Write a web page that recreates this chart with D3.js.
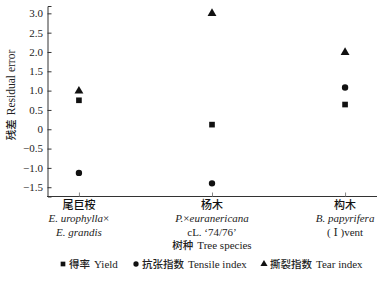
<!DOCTYPE html>
<html lang="zh">
<head>
<meta charset="UTF-8">
<script src="https://d3js.org/d3.v7.min.js"></script>
<style>
  body { margin: 0; background: #fff; }
  text, tspan { font-family: "Liberation Serif", "DejaVu Serif", serif; }
  .zh { font-family: "Noto Sans CJK SC", sans-serif; font-weight: 500; }
</style>
</head>
<body>
<script>
// species (x categories) and the three residual series
const species = ["尾巨桉", "杨木", "构木"];
const yieldVals = [0.75, 0.12, 0.64];
const tensileVals = [-1.13, -1.40, 1.08];
const tearVals = [0.99, 3.0, 1.99];
const yTicks = [-1.5, -1.0, -0.5, 0, 0.5, 1.0, 1.5, 2.0, 2.5, 3.0];
// latin names under each species, as [text, italic] pieces per line
const latinLines = [
  [[["E. urophylla", true], ["×", false]], [["E. grandis", true]]],
  [[["P.", true], ["×", false], ["euranericana", true]], [["cL. ‘74/76’", false]]],
  [[["B. papyrifera", true]], [["( Ⅰ )vent", false]]]
];
const legendItems = [
  { zh: "得率", en: "Yield", sym: d3.symbolSquare },
  { zh: "抗张指数", en: "Tensile index", sym: d3.symbolCircle },
  { zh: "撕裂指数", en: "Tear index", sym: d3.symbolTriangle }
];

const W = 386, H = 284;
const serif = "'Liberation Serif', 'DejaVu Serif', serif";
const svg = d3.select("body").append("svg").attr("width", W).attr("height", H);

const x = d3.scalePoint().domain(species).range([47, 377]).padding(0.24);
const y = d3.scaleLinear().domain([-1.74, 3.19]).range([196.5, 6]);

// axes with inward ticks
const fmt = d => d === 0 ? "0" : d3.format(".1f")(d).replace("-", "−");
svg.append("g")
  .attr("transform", "translate(47.5,0)")
  .call(d3.axisRight(y).tickValues(yTicks).tickSize(4).tickFormat(""))
  .call(g => g.select(".domain").attr("stroke", "#333"))
  .call(g => g.selectAll(".tick line").attr("stroke", "#333"));
svg.append("g").selectAll("text").data(yTicks).join("text")
  .attr("x", 43).attr("y", d => y(d)).attr("dy", "0.35em")
  .attr("text-anchor", "end").attr("font-size", 11).attr("fill", "#222")
  .style("font-family", serif)
  .text(fmt);

svg.append("g")
  .attr("transform", "translate(0,196.5)")
  .call(d3.axisTop(x).tickSize(4).tickFormat(""))
  .call(g => g.select(".domain").attr("d", "M47,0H377").attr("stroke", "#333"))
  .call(g => g.selectAll(".tick line").attr("stroke", "#888"));

// category labels
species.forEach((s, i) => {
  const cx = x(s);
  svg.append("text").attr("class", "zh").attr("x", cx).attr("y", 209)
    .attr("text-anchor", "middle").attr("font-size", 11).attr("fill", "#111").text(s);
  latinLines[i].forEach((line, j) => {
    const t = svg.append("text").attr("x", cx).attr("y", 222 + j * 13.5)
      .attr("text-anchor", "middle").attr("font-size", 11).attr("fill", "#222")
      .style("font-family", serif);
    line.forEach(([txt, it]) => t.append("tspan")
      .attr("font-style", it ? "italic" : "normal").text(txt));
  });
});

// axis titles
const xt = svg.append("text").attr("x", 212).attr("y", 249)
  .attr("text-anchor", "middle").attr("font-size", 11).attr("fill", "#222")
  .style("font-family", serif);
xt.append("tspan").attr("class", "zh").attr("font-size", 10.5).text("树种");
xt.append("tspan").attr("dx", 4).text("Tree species");

const yt = svg.append("text").attr("transform", "translate(15,95) rotate(-90)")
  .attr("text-anchor", "middle").attr("font-size", 11.5).attr("fill", "#222")
  .style("font-family", serif);
yt.append("tspan").attr("class", "zh").attr("font-size", 10.5).text("残差");
yt.append("tspan").attr("dx", 4).text("Residual error");

// markers
const series = [
  { vals: yieldVals, sym: d3.symbolSquare, size: 32 },
  { vals: tensileVals, sym: d3.symbolCircle, size: 32 },
  { vals: tearVals, sym: d3.symbolTriangle, size: 34 }
];
series.forEach(se => {
  svg.append("g").selectAll("path").data(se.vals).join("path")
    .attr("transform", (d, i) => `translate(${x(species[i])},${y(d)})`)
    .attr("d", d3.symbol(se.sym, se.size))
    .attr("fill", "#111");
});

// legend
const legX = [63, 136, 264];
legendItems.forEach((it, i) => {
  const g = svg.append("g").attr("transform", `translate(${legX[i]},264)`);
  g.append("path").attr("d", d3.symbol(it.sym, 22)).attr("fill", "#111");
  const t = g.append("text").attr("x", 6).attr("dy", "0.35em")
    .attr("font-size", 11).attr("fill", "#222").style("font-family", serif);
  t.append("tspan").attr("class", "zh").attr("font-size", 10.5).text(it.zh);
  t.append("tspan").attr("dx", 4).text(it.en);
});
</script>
</body>
</html>
